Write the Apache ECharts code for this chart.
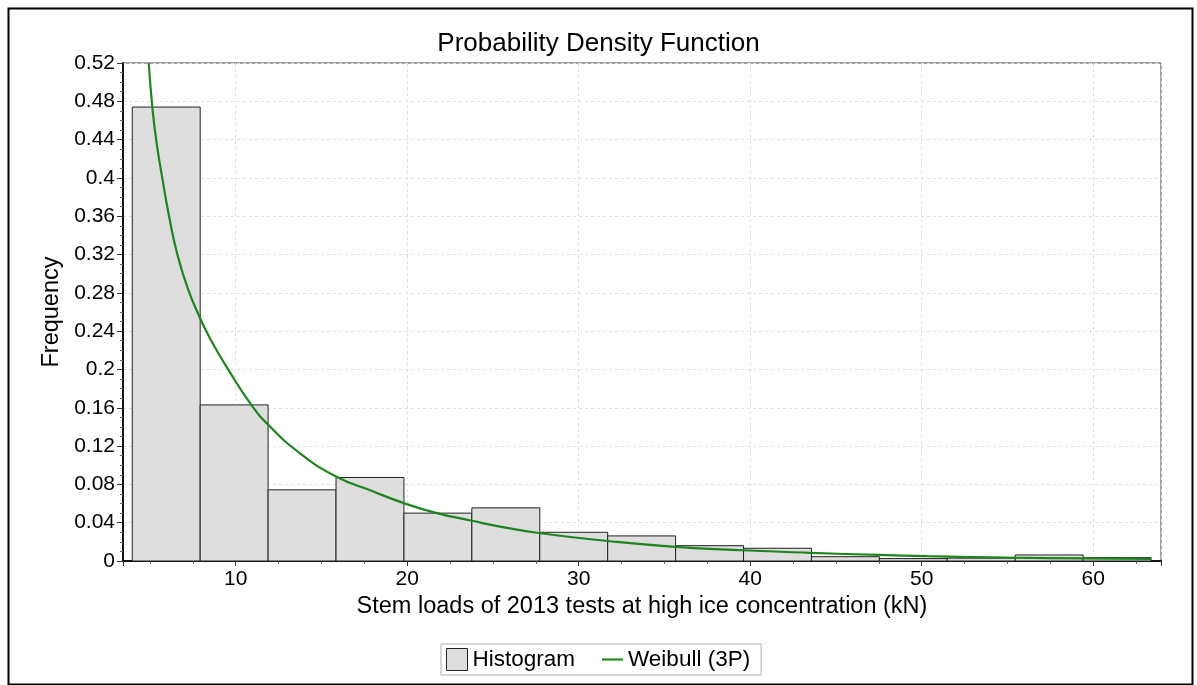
<!DOCTYPE html>
<html>
<head>
<meta charset="utf-8">
<script src="https://cdn.jsdelivr.net/npm/echarts@6/dist/echarts.min.js"></script>
<style>
  html, body { margin: 0; padding: 0; background: #fff; }
  #chart { width: 1197px; height: 685px; }
</style>
</head>
<body>
<div id="chart"></div>
<script>
// Histogram bin edges (kN) and relative frequency of each bin
const binEdges = [3.97, 7.93, 11.89, 15.85, 19.81, 23.77, 27.73, 31.69, 35.65,
                  39.61, 43.57, 47.53, 51.49, 55.45, 59.41, 63.37];
const binFreq = [0.474, 0.163, 0.0743, 0.0872, 0.050, 0.0555, 0.030, 0.0262,
                 0.016, 0.0133, 0.0045, 0.0025, 0.003, 0.0063, 0.0035];

// Fitted Weibull (3P) density, sampled along the load axis
const weibullX = [4.93, 5.14, 5.37, 5.72, 6.11, 6.60, 7.22, 7.94, 8.40, 8.89, 9.48,
                  10.83, 11.94, 13.75, 15.85, 18.02, 19.81, 21.72, 23.78, 25.41,
                  27.76, 31.69, 35.62, 39.56, 43.54, 47.5, 50.3, 52.8, 55.4, 59.4, 63.37];
const weibullY = [0.52, 0.474, 0.439, 0.400, 0.3605, 0.320, 0.284, 0.253, 0.236, 0.220, 0.2025,
                  0.165, 0.1414, 0.1125, 0.0883, 0.0726, 0.0604, 0.050, 0.042, 0.0359,
                  0.029, 0.0209, 0.0148, 0.0112, 0.0085, 0.0063, 0.0050, 0.0041, 0.0034, 0.0027, 0.0021];

const xRange = [3.43, 63.95];
const yRange = [0, 0.52];
const yStep = 0.04;

const histData = binFreq.map((f, i) => [binEdges[i], binEdges[i + 1], f]);
const curveData = weibullX.map((x, i) => [x, weibullY[i]]);

const FONT = 'Liberation Sans, Arial, sans-serif';
const GREEN = '#1c861c';
const chart = echarts.init(document.getElementById('chart'), null, { renderer: 'canvas' });

chart.setOption({
  backgroundColor: '#ffffff',
  animation: false,
  title: {
    text: 'Probability Density Function',
    left: 'center',
    top: 26,
    textStyle: { fontFamily: FONT, fontSize: 26, fontWeight: 'normal', color: '#000' }
  },
  graphic: [{
    type: 'rect',
    left: 6, top: 6,
    shape: { width: 1184, height: 676 },
    style: { fill: 'none', stroke: '#000', lineWidth: 2 },
    silent: true
  }],
  grid: {
    left: 123, right: 36, top: 63, bottom: 124,
    containLabel: false,
    outerBoundsMode: 'none',
    show: true,
    borderColor: '#444',
    borderWidth: 1
  },
  legend: {
    left: 441, top: 644,
    padding: [4, 11, 4, 5],
    borderColor: '#b0b0b0',
    borderWidth: 1,
    itemGap: 27,
    itemWidth: 21,
    itemHeight: 22,
    textStyle: { fontFamily: FONT, fontSize: 22.5, color: '#000' },
    data: [
      { name: 'Histogram', icon: 'rect', itemStyle: { color: '#dedede', borderColor: '#222', borderWidth: 1 } },
      { name: 'Weibull (3P)', icon: 'path://M0,0 H40 V4 H0 Z', itemStyle: { color: GREEN, borderWidth: 0 } }
    ]
  },
  xAxis: {
    type: 'value',
    min: xRange[0],
    max: xRange[1],
    splitNumber: 6,
    name: 'Stem loads of 2013 tests at high ice concentration (kN)',
    nameLocation: 'middle',
    nameGap: 31,
    nameTextStyle: { fontFamily: FONT, fontSize: 23.5, color: '#000' },
    axisLine: { show: true, onZero: false, lineStyle: { color: '#111', width: 2 } },
    axisTick: { show: true, inside: false, length: 5, lineStyle: { color: '#333' } },
    minorTick: { show: true, splitNumber: 4, length: 3, lineStyle: { color: '#666' } },
    axisLabel: {
      fontFamily: FONT, fontSize: 21, color: '#000', margin: 8,
      showMinLabel: false, showMaxLabel: false
    },
    splitLine: { show: true, lineStyle: { color: '#e0e0e0', type: [3, 3], width: 1 } }
  },
  yAxis: {
    type: 'value',
    min: yRange[0],
    max: yRange[1],
    interval: yStep,
    name: 'Frequency',
    nameLocation: 'middle',
    nameGap: 48,
    nameTextStyle: { fontFamily: FONT, fontSize: 23.5, color: '#000' },
    axisLine: { show: true, lineStyle: { color: '#111', width: 2 } },
    axisTick: { show: true, inside: false, length: 6, lineStyle: { color: '#333' } },
    minorTick: { show: true, splitNumber: 4, length: 3, lineStyle: { color: '#666' } },
    axisLabel: {
      fontFamily: FONT, fontSize: 21, color: '#000', margin: 8,
      formatter: v => String(+v.toFixed(2))
    },
    splitLine: { show: true, lineStyle: { color: '#e0e0e0', type: [3, 3], width: 1 } }
  },
  series: [
    {
      name: 'Histogram',
      type: 'custom',
      data: histData,
      encode: { x: [0, 1], y: 2 },
      itemStyle: { color: '#dedede', borderColor: '#222', borderWidth: 1 },
      renderItem: function (params, api) {
        const top = api.coord([api.value(0), api.value(2)]);
        const base = api.coord([api.value(1), 0]);
        return {
          type: 'rect',
          shape: { x: top[0], y: top[1], width: base[0] - top[0], height: base[1] - top[1] },
          style: { fill: '#dedede', stroke: '#222', lineWidth: 1 }
        };
      },
      z: 2
    },
    {
      name: 'Weibull (3P)',
      type: 'line',
      data: curveData,
      symbol: 'none',
      smooth: 0.5,
      clip: true,
      lineStyle: { color: GREEN, width: 2.2 },
      itemStyle: { color: GREEN },
      z: 3
    }
  ]
});
</script>
</body>
</html>
